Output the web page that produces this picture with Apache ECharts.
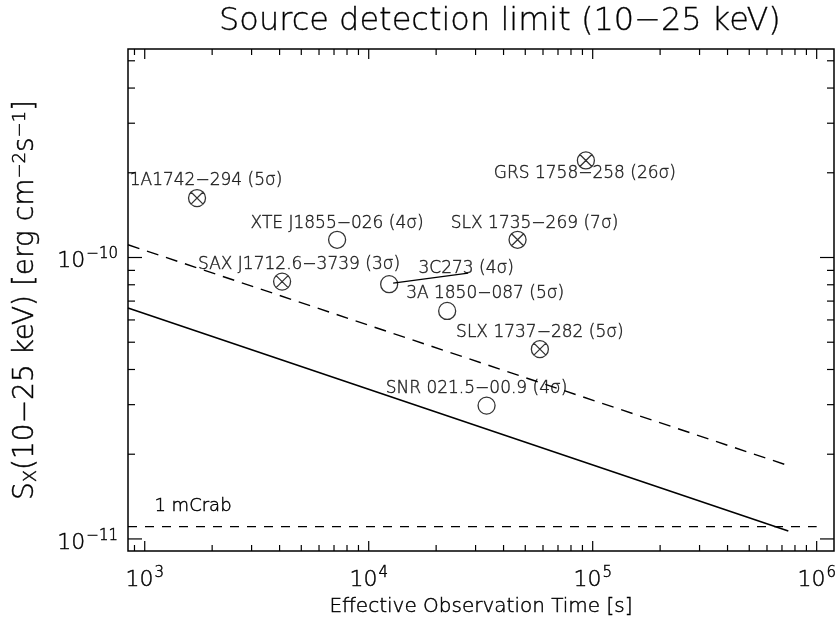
<!DOCTYPE html>
<html>
<head>
<meta charset="utf-8">
<script src="https://cdn.jsdelivr.net/npm/echarts@6/dist/echarts.min.js"></script>
<style>
html,body{margin:0;padding:0;background:#fff;}
#chart{width:838px;height:621px;}
</style>
</head>
<body>
<div id="chart"></div>
<script>
// ---------------- data ----------------
const srcNames = ['1A1742−294 (5σ)', 'GRS 1758−258 (26σ)', 'XTE J1855−026 (4σ)', 'SLX 1735−269 (7σ)',
  'SAX J1712.6−3739 (3σ)', '3C273 (4σ)', '3A 1850−087 (5σ)', 'SLX 1737−282 (5σ)', 'SNR 021.5−00.9 (4σ)'];
const srcTime = [1712, 93240, 7226, 46190, 4105, 12340, 22400, 58100, 33590];
const srcFlux = [1.626e-10, 2.212e-10, 1.156e-10, 1.156e-10, 8.21e-11, 8.04e-11, 6.46e-11, 4.725e-11, 2.977e-11];
const srcType = ['cross', 'cross', 'open', 'cross', 'cross', 'open', 'open', 'cross', 'open'];

const limitSolidTime = [842, 7.47e5];
const limitSolidFlux = [6.61e-11, 1.067e-11];
const limitDashedTime = [842, 7.5e5];
const limitDashedFlux = [1.11e-10, 1.82e-11];
const mCrabTime = [842, 1.0e6];
const mCrabFlux = [1.106e-11, 1.106e-11];
const mCrabLabel = '1 mCrab';

const xMajorTicks = [1e3, 1e4, 1e5, 1e6];
const xMinorTicks = [900, 2e3, 3e3, 4e3, 5e3, 6e3, 7e3, 8e3, 9e3, 2e4, 3e4, 4e4, 5e4, 6e4, 7e4, 8e4, 9e4,
  2e5, 3e5, 4e5, 5e5, 6e5, 7e5, 8e5, 9e5];
const yMajorTicks = [1e-11, 1e-10];
const yMinorTicks = [2e-11, 3e-11, 4e-11, 5e-11, 6e-11, 7e-11, 8e-11, 9e-11, 2e-10, 3e-10, 4e-10, 5e-10];

const xMin = 842, xMax = 1.195e6, yMin = 9.06e-12, yMax = 5.506e-10;

// ---------------- layout / style ----------------
const FONT = 'DejaVu Sans';
const FW = 200;
const TB = { textBorderColor: '#000', textBorderWidth: 0.45 };
// label centre offsets (px) relative to each marker, in srcNames order
const labelOffsets = [[9, -18], [-1, 13], [0, -16], [17, -16], [17, -17], [77, -16], [38, -17], [0, -17], [-10, -17]];
const leaderFrom = [4, -1], leaderTo = [79, -11]; // 3C273 leader line, px from marker

const crossPath = 'path://M10,0A10,10,0,1,1,-10,0A10,10,0,1,1,10,0ZM-7.07,-7.07L7.07,7.07M7.07,-7.07L-7.07,7.07';

function pow10Label(v) {
  const e = Math.log10(v);
  const r = Math.round(e);
  if (Math.abs(e - r) > 1e-6) return '';
  return '{b|10}{sup|' + (r < 0 ? '−' + (-r) : r) + '}';
}

const scatterData = srcNames.map((n, i) => ({
  value: [srcTime[i], srcFlux[i]],
  name: n,
  symbol: srcType[i] === 'cross' ? crossPath : 'circle',
  label: { offset: labelOffsets[i] }
}));

function tickRenderer(isX) {
  return function (params, api) {
    const cs = params.coordSys;
    const p = api.coord([api.value(0), api.value(1)]);
    const major = api.value(2) === 1;
    const style = { stroke: '#000', lineWidth: 1.2 };
    if (isX) {
      const len = major ? 10 : 6;
      return { type: 'group', children: [
        { type: 'line', shape: { x1: p[0], y1: cs.y + cs.height, x2: p[0], y2: cs.y + cs.height - len }, style },
        { type: 'line', shape: { x1: p[0], y1: cs.y, x2: p[0], y2: cs.y + len }, style }
      ]};
    } else {
      const len = major ? 14 : 7;
      return { type: 'group', children: [
        { type: 'line', shape: { x1: cs.x, y1: p[1], x2: cs.x + len, y2: p[1] }, style },
        { type: 'line', shape: { x1: cs.x + cs.width, y1: p[1], x2: cs.x + cs.width - len, y2: p[1] }, style }
      ]};
    }
  };
}

const xTickData = xMajorTicks.map(v => [v, yMin, 1]).concat(xMinorTicks.map(v => [v, yMin, 0]));
const yTickData = yMajorTicks.map(v => [xMin, v, 1]).concat(yMinorTicks.map(v => [xMin, v, 0]));

const leaderIdx = srcNames.indexOf('3C273 (4σ)');

const tickRich = {
  b: Object.assign({ fontFamily: FONT, fontSize: 22, fontWeight: FW, color: '#000', padding: [8, 0, 0, 0] }, TB),
  sup: Object.assign({ fontFamily: FONT, fontSize: 15, fontWeight: FW, color: '#000', padding: [0, 0, 6, 1] }, TB)
};

const option = {
  backgroundColor: '#fff',
  animation: false,
  title: {
    text: 'Source detection limit (10−25 keV)',
    left: 214,
    top: 1,
    textStyle: Object.assign({ fontFamily: FONT, fontSize: 32, fontWeight: FW, color: '#000' }, { textBorderColor: '#000', textBorderWidth: 0.3 })
  },
  grid: {
    left: 128, right: 4, top: 49, bottom: 70,
    show: true, borderColor: '#000', borderWidth: 1.5, backgroundColor: 'transparent',
    containLabel: false, outerBoundsMode: 'none'
  },
  xAxis: {
    type: 'log', logBase: 10, min: xMin, max: xMax,
    axisLine: { show: false }, axisTick: { show: false }, splitLine: { show: false },
    axisLabel: {
      formatter: pow10Label, margin: 10, color: '#000',
      showMinLabel: true, showMaxLabel: true,
      rich: tickRich
    },
    name: 'Effective Observation Time [s]',
    nameLocation: 'middle', nameGap: 44,
    nameTextStyle: Object.assign({ fontFamily: FONT, fontSize: 20, fontWeight: FW, color: '#000' }, TB)
  },
  yAxis: {
    type: 'log', logBase: 10, min: yMin, max: yMax,
    axisLine: { show: false }, axisTick: { show: false }, splitLine: { show: false },
    axisLabel: {
      formatter: pow10Label, margin: 10, color: '#000',
      rich: tickRich
    },
    name: '{m|S}{sub|X}{m|(10−25 keV) [erg cm}{sup|−2}{m|s}{sup|−1}{m|]}',
    nameLocation: 'middle', nameGap: 88, nameRotate: 90,
    nameTextStyle: {
      fontFamily: FONT, fontSize: 28, fontWeight: FW, color: '#000',
      rich: {
        m: Object.assign({ fontFamily: FONT, fontSize: 28, fontWeight: FW, color: '#000' }, TB),
        sub: Object.assign({ fontFamily: FONT, fontSize: 18, fontWeight: FW, color: '#000', padding: [11, 0, 0, 0] }, TB),
        sup: Object.assign({ fontFamily: FONT, fontSize: 18, fontWeight: FW, color: '#000', padding: [0, 0, 11, 0] }, TB)
      }
    }
  },
  series: [
    {
      type: 'line', name: 'limit', silent: true, symbol: 'none',
      data: limitSolidTime.map((t, i) => [t, limitSolidFlux[i]]),
      lineStyle: { color: '#000', width: 1.6, type: 'solid' }
    },
    {
      type: 'line', name: 'limit dashed', silent: true, symbol: 'none',
      data: limitDashedTime.map((t, i) => [t, limitDashedFlux[i]]),
      lineStyle: { color: '#000', width: 1.4, type: [12, 8] }
    },
    {
      type: 'line', name: 'mCrab', silent: true,
      symbol: 'circle', symbolSize: 1, showSymbol: true,
      itemStyle: { color: 'rgba(0,0,0,0)' },
      data: [
        { value: [mCrabTime[0], mCrabFlux[0]],
          label: Object.assign({ show: true, formatter: mCrabLabel, position: 'inside', offset: [65, -20],
                   fontFamily: FONT, fontSize: 18, fontWeight: FW, color: '#000' }, TB) },
        { value: [mCrabTime[1], mCrabFlux[1]] }
      ],
      lineStyle: { color: '#000', width: 1.2, type: [9, 8] }
    },
    {
      type: 'custom', name: 'leader', silent: true,
      data: [[srcTime[leaderIdx], srcFlux[leaderIdx]]],
      renderItem: function (params, api) {
        const p = api.coord([api.value(0), api.value(1)]);
        return { type: 'line', shape: { x1: p[0] + leaderFrom[0], y1: p[1] + leaderFrom[1], x2: p[0] + leaderTo[0], y2: p[1] + leaderTo[1] },
                 style: { stroke: '#000', lineWidth: 1.2 } };
      }
    },
    {
      type: 'scatter', name: 'sources', silent: true,
      symbolSize: 17,
      itemStyle: { color: 'rgba(0,0,0,0)', borderColor: '#000', borderWidth: 1.3 },
      label: Object.assign({
        show: true, position: 'inside', formatter: p => p.name,
        fontFamily: FONT, fontSize: 17, fontWeight: FW, color: '#000'
      }, TB),
      data: scatterData,
      z: 5
    },
    { type: 'custom', name: 'xticks', silent: true, renderItem: tickRenderer(true), data: xTickData, z: 6 },
    { type: 'custom', name: 'yticks', silent: true, renderItem: tickRenderer(false), data: yTickData, z: 6 }
  ]
};

const chart = echarts.init(document.getElementById('chart'), null, { renderer: 'canvas' });
chart.setOption(option);
</script>
</body>
</html>
